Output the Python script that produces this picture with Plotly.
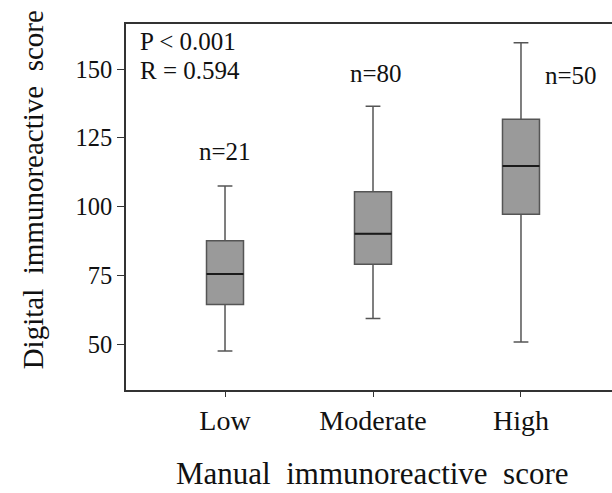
import plotly.graph_objects as go

categories = ["Low", "Moderate", "High"]
counts = [21, 80, 50]
lower_whisker = [47.5, 59.3, 50.8]
q1_vals = [64.4, 79.0, 97.2]
median_vals = [75.5, 90.1, 114.8]
q3_vals = [87.6, 105.4, 131.8]
upper_whisker = [107.5, 136.5, 159.6]
y_ticks = [50, 75, 100, 125, 150]
stats_text = ["P < 0.001", "R = 0.594"]
x_title = "Manual  immunoreactive  score"
y_title = "Digital  immunoreactive  score"

pos = list(range(len(categories)))
box_w = 0.25
serif = "Liberation Serif"

fig = go.Figure()
fig.add_trace(go.Box(
    x=pos, q1=q1_vals, median=median_vals, q3=q3_vals,
    lowerfence=lower_whisker, upperfence=upper_whisker,
    width=box_w, whiskerwidth=0.4, boxpoints=False,
    fillcolor="#9a9a9a", line=dict(color="#555555", width=1.5),
    showlegend=False, hoverinfo="skip",
))

mx, my = [], []
for i, m in zip(pos, median_vals):
    mx += [i - box_w / 2, i + box_w / 2, None]
    my += [m, m, None]
fig.add_trace(go.Scatter(x=mx, y=my, mode="lines",
                         line=dict(color="#1a1a1a", width=2),
                         showlegend=False, hoverinfo="skip"))

ann_font = dict(family=serif, size=25, color="#111")
n_pos = [(0, 120.2), (1.02, 148.5), (2.34, 147.8)]
for (xp, yp), n in zip(n_pos, counts):
    fig.add_annotation(x=xp, y=yp, text=f"n={n}", showarrow=False,
                       font=ann_font, xanchor="center", yanchor="middle")

fig.add_annotation(x=0.025, y=0.951, xref="paper", yref="paper", text=stats_text[0],
                   showarrow=False, xanchor="left", yanchor="middle", font=ann_font)
fig.add_annotation(x=0.025, y=0.872, xref="paper", yref="paper", text=stats_text[1],
                   showarrow=False, xanchor="left", yanchor="middle", font=ann_font)

# axis titles
fig.add_annotation(x=0.508, y=-0.227, xref="paper", yref="paper", text=x_title,
                   showarrow=False, xanchor="center", yanchor="middle", borderpad=0,
                   font=dict(family=serif, size=31, color="#111"))
fig.add_annotation(x=-0.191, y=0.546, xref="paper", yref="paper", text=y_title,
                   textangle=-90, showarrow=False, xanchor="center", yanchor="middle",
                   font=dict(family=serif, size=29, color="#111"))

fig.update_layout(
    width=612, height=493,
    margin=dict(l=126, r=0, t=24, b=103),
    paper_bgcolor="white", plot_bgcolor="white",
    font=dict(family=serif, color="#111"),
    xaxis=dict(
        range=[-0.669, 2.615], tickvals=pos, ticktext=categories,
        showline=True, linecolor="#333", linewidth=1.5, mirror=True,
        ticks="outside", ticklen=5, tickcolor="#333", showgrid=False, zeroline=False,
        tickfont=dict(family=serif, size=28, color="#111"),
    ),
    yaxis=dict(
        range=[33.3, 166.4], tickvals=y_ticks,
        showline=True, linecolor="#333", linewidth=1.5, mirror=False,
        ticks="outside", ticklen=7, tickcolor="#333", showgrid=False, zeroline=False,
        tickfont=dict(family=serif, size=24.5, color="#111"),
    ),
)

fig.write_html("out.html")
